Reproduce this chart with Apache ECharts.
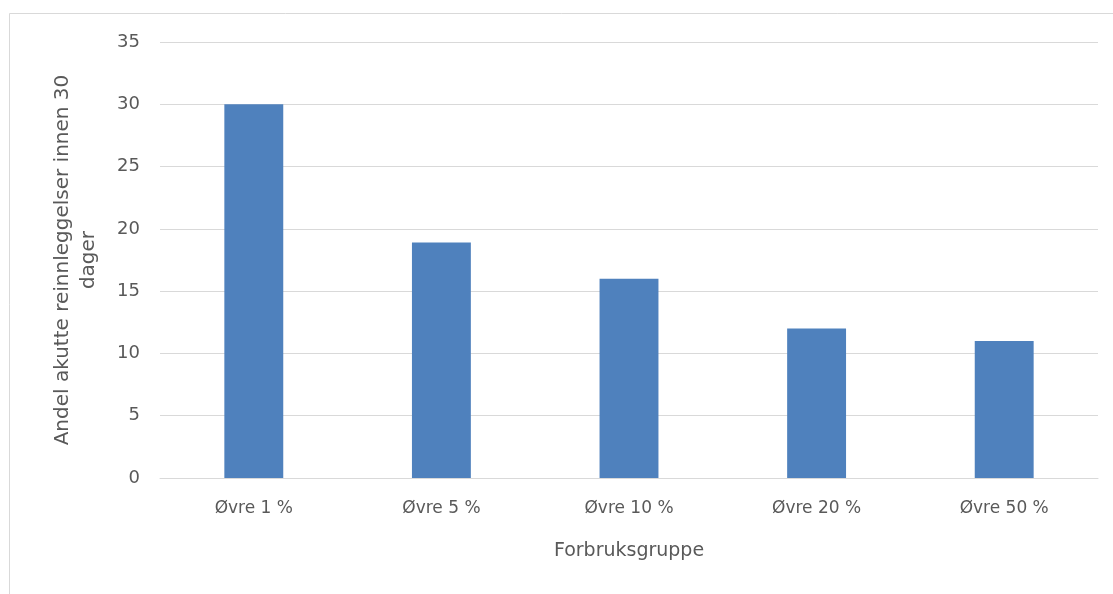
<!DOCTYPE html>
<html>
<head>
<meta charset="utf-8">
<script src="https://cdn.jsdelivr.net/npm/echarts@6/dist/echarts.min.js"></script>
<style>
html,body{margin:0;padding:0;background:#fff;}
#c{width:1113px;height:594px;}
</style>
</head>
<body>
<div id="c"></div>
<script>
const categories = ['Øvre 1 %', 'Øvre 5 %', 'Øvre 10 %', 'Øvre 20 %', 'Øvre 50 %'];
const values = [30, 18.9, 16, 12, 11];
const yTicks = [0, 5, 10, 15, 20, 25, 30, 35];
const yTitle = 'Andel akutte reinnleggelser innen 30\ndager';
const xTitle = 'Forbruksgruppe';

const FONT = 'DejaVu Sans';
const TXT = '#595959';
const chart = echarts.init(document.getElementById('c'), null, {renderer: 'canvas'});
chart.setOption({
  animation: false,
  backgroundColor: '#fff',
  graphic: [{
    type: 'rect',
    shape: {x: 9.5, y: 13.5, width: 1200, height: 700},
    style: {fill: 'none', stroke: '#d9d9d9', lineWidth: 1},
    silent: true
  }],
  grid: {left: 160, right: 15, top: 42, bottom: 116, containLabel: false},
  xAxis: {
    type: 'category',
    data: categories,
    axisLine: {show: true, lineStyle: {color: '#d9d9d9', width: 1}},
    axisTick: {show: false},
    axisLabel: {color: TXT, fontFamily: FONT, fontSize: 17, margin: 22},
    name: xTitle,
    nameLocation: 'middle',
    nameGap: 64,
    nameTextStyle: {color: TXT, fontFamily: FONT, fontSize: 19}
  },
  yAxis: {
    type: 'value',
    min: yTicks[0],
    max: yTicks[yTicks.length - 1],
    interval: yTicks[1] - yTicks[0],
    axisLine: {show: false},
    axisTick: {show: false},
    splitLine: {lineStyle: {color: '#d9d9d9', width: 1}},
    axisLabel: {color: TXT, fontFamily: FONT, fontSize: 18, margin: 20},
    name: yTitle,
    nameLocation: 'middle',
    nameRotate: 90,
    nameGap: 58,
    nameTextStyle: {color: TXT, fontFamily: FONT, fontSize: 20, lineHeight: 26, align: 'center'}
  },
  series: [{
    type: 'bar',
    data: values,
    barWidth: '31.4%',
    itemStyle: {color: '#4f81bd'}
  }]
});
</script>
</body>
</html>
